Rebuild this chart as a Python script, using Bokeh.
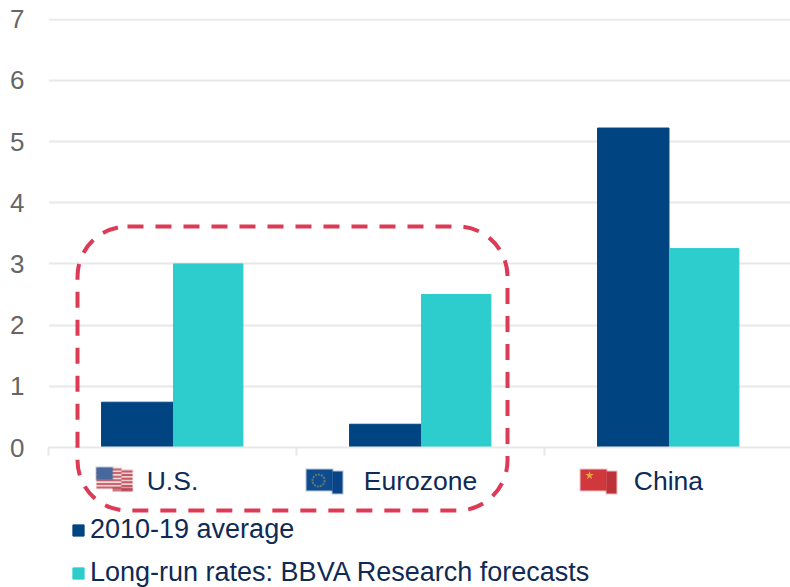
from bokeh.embed import file_html
from bokeh.layouts import column
from bokeh.models import BoxAnnotation, FixedTicker, Legend, LegendItem, Range1d
from bokeh.plotting import figure
from bokeh.resources import INLINE

# Policy rates by economy
regions = ["U.S.", "Eurozone", "China"]
average_2010_19 = [0.74, 0.38, 5.22]
long_run_forecast = [3.0, 2.5, 3.25]
y_ticks = [0, 1, 2, 3, 4, 5, 6, 7]
series_names = ["2010-19 average", "Long-run rates: BBVA Research forecasts"]

NAVY = "#004481"
TEAL = "#2dcccd"
GRID = "#e8e8e8"
INK = "#0f2a55"
GREY = "#666666"
FONT = "Liberation Sans"
WIDTH, HEIGHT = 790, 587
LEFT = 48

p = figure(
    width=WIDTH, height=HEIGHT, output_backend="svg", toolbar_location=None,
    x_range=Range1d(0, 2.992), y_range=Range1d(0, 7.01),
    min_border_left=LEFT, min_border_right=0, min_border_top=18, min_border_bottom=140,
    margin=0,
)
p.outline_line_color = None
p.xgrid.visible = False
p.ygrid.grid_line_color = GRID
p.ygrid.grid_line_width = 2
p.ygrid.ticker = FixedTicker(ticks=y_ticks)

left_x = [i + 0.5 - 0.142 for i in range(len(regions))]
right_x = [i + 0.5 + 0.144 for i in range(len(regions))]
p.vbar(x=left_x, top=average_2010_19, bottom=0, width=0.288, color=NAVY)
p.vbar(x=right_x, top=long_run_forecast, bottom=0, width=0.28, color=TEAL)

xaxis = p.xaxis[0]
xaxis.ticker = FixedTicker(ticks=[i + 0.5 for i in range(len(regions))],
                           minor_ticks=list(range(len(regions) + 1)))
xaxis.major_label_overrides = {i + 0.5: name for i, name in enumerate(regions)}
xaxis.major_tick_line_color = None
xaxis.major_tick_out = 0
xaxis.major_tick_in = 0
xaxis.minor_tick_out = 8
xaxis.minor_tick_in = 0
xaxis.minor_tick_line_color = GRID
xaxis.minor_tick_line_width = 2
xaxis.axis_line_color = GRID
xaxis.axis_line_width = 2
xaxis.major_label_standoff = 10
xaxis.major_label_text_font = FONT
xaxis.major_label_text_font_size = "26.5px"
xaxis.major_label_text_color = INK

yaxis = p.yaxis[0]
yaxis.ticker = FixedTicker(ticks=y_ticks)
yaxis.axis_line_color = None
yaxis.major_tick_line_color = None
yaxis.minor_tick_line_color = None
yaxis.major_label_standoff = 18
yaxis.major_label_text_font = FONT
yaxis.major_label_text_font_size = "26px"
yaxis.major_label_text_color = GREY

# Transparent layer over the page, for the flags, the highlight frame and the key.
# The column lines its frame up with the chart's, so x starts at the same pixel.
layer = figure(
    width=WIDTH, height=HEIGHT, output_backend="svg", toolbar_location=None,
    x_range=Range1d(LEFT, WIDTH), y_range=Range1d(HEIGHT, 0),
    x_axis_type=None, y_axis_type=None,
    min_border_left=0, min_border_right=0, min_border_top=0, min_border_bottom=0,
    margin=(-HEIGHT, 0, 0, 0),
    background_fill_alpha=0, border_fill_alpha=0,
)
layer.outline_line_color = None
layer.grid.visible = False


def box(l, r, t, b, color, alpha=1.0):
    layer.quad(left=l, right=r, top=t, bottom=b, fill_color=color, fill_alpha=alpha, line_color=None)


def soft_box(l, r, t, b, color):
    # A faint rim keeps the small flag panels from looking hard-edged
    box(l - 1, r + 1, t - 1, b + 1, color, 0.3)
    box(l, r, t, b, color)


# U.S. flag: the fly end hangs a little lower than the hoist
soft_box(96, 121, 467, 488, "#f0d8d8")
soft_box(121, 132, 469, 491, "#ecd0d0")
for i in range(6):
    box(96, 121, 468 + i * 3.6, 470 + i * 3.6, "#c65a66", 0.9)
    box(121, 132, 470 + i * 3.6, 472 + i * 3.6, "#bf4c5a", 0.9)
soft_box(96, 112, 467, 479, "#46689c")
box(112, 132, 487, 491, "#b5404e", 0.7)

# Eurozone flag
soft_box(306, 332, 469, 490, "#0f4c8f")
soft_box(332, 342, 471, 493, "#0a4488")
layer.circle(x=[318], y=[480], radius=6, fill_alpha=0, line_color="#5f7a6a", line_width=2, line_dash="2 1")

# China flag
soft_box(580, 606, 469, 490, "#d0383e")
soft_box(606, 616, 471, 493, "#bd3238")
layer.scatter(x=[589], y=[475], marker="star", size=9, fill_color="#e2a63c", line_color=None)

# Dashed highlight around the two advanced economies
layer.add_layout(BoxAnnotation(
    left=77, right=507, top=226, bottom=510,
    fill_alpha=0, line_color="#dc3a55", line_alpha=1, line_width=4,
    line_dash="16 12", border_radius=50,
))

# Key entries for the two bar series; these glyphs have no extent, only the swatch shows
swatch_a = layer.vbar(x=[WIDTH], top=[HEIGHT], bottom=[HEIGHT], width=0, color=NAVY)
swatch_b = layer.vbar(x=[WIDTH], top=[HEIGHT], bottom=[HEIGHT], width=0, color=TEAL)
legend = Legend(
    items=[LegendItem(label=series_names[0], renderers=[swatch_a]),
           LegendItem(label=series_names[1], renderers=[swatch_b])],
    location=(23, -1), orientation="vertical",
    glyph_width=14, glyph_height=14, label_standoff=5, spacing=12, padding=0, margin=0,
    border_line_color=None, background_fill_alpha=0,
    label_text_font=FONT, label_text_font_size="27px", label_text_color=INK,
)
layer.add_layout(legend, "center")

open("out.html", "w").write(file_html(column(p, layer, spacing=0, margin=0), INLINE))
